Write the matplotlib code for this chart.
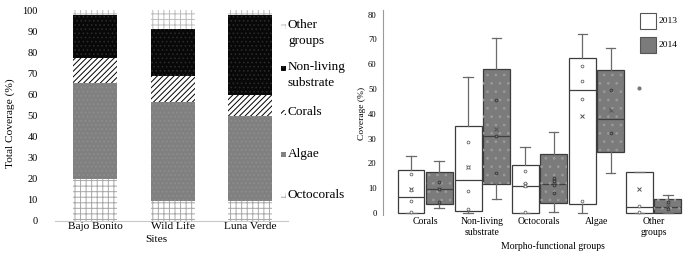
import matplotlib
matplotlib.use("Agg")
import matplotlib.pyplot as plt
from matplotlib.patches import Rectangle, PathPatch

plt.rcParams['font.family'] = ['Liberation Serif', 'DejaVu Serif']
plt.rcParams['hatch.linewidth'] = 0.7

# left panel: stacked coverage per site
sites = ["Bajo Bonito", "Wild Life", "Luna Verde"]
octocorals = [20, 9.5, 9.5]
algae = [45.5, 47, 40.5]
corals = [12, 12.5, 10]
non_living = [20.5, 22, 38]
other = [2, 9, 2]

# right panel: box stats per group, 2013 and 2014
groups = ["Corals", "Non-living\nsubstrate", "Octocorals", "Algae", "Other\ngroups"]
# (whislo, q1, med, q3, whishi, mean)
stats_2013 = [(0, 0.2, 6.6, 17.3, 23.1, 9.5),
              (0, 1.0, 13.3, 35.1, 55.0, 18.5),
              (0, 0, 10.9, 19.4, 26.7, 11.5),
              (0, 3.5, 49.6, 62.6, 72.4, 39.2),
              (0, 0, 2.3, 16.4, 16.4, 9.8)]
stats_2014 = [(1.9, 3.5, 9.5, 16.7, 21.1, 9.8),
              (5.5, 11.7, 31.1, 58.0, 70.5, 33.8),
              (0.3, 3.9, 11.6, 23.7, 32.5, 13.0),
              (16.3, 24.7, 37.8, 57.7, 66.4, 41.4),
              (0, 0, 2.3, 5.5, 7.3, 3.0)]
fliers_2013 = [[], [], [], [], [50.5]]
fliers_2014 = [[], [], [], [], []]
points_2013 = [[15.7, 9.3, 4.8, 0.4], [28.5, 18.7, 8.9, 1.5], [17, 12.2, 11, 0.3],
               [59.4, 53.4, 46, 4.8], [3, 0.3]]
points_2014 = [[12.6, 9.6, 4.6], [45.6, 31, 16.3], [14, 13, 11.3, 8.2],
               [49.6, 32.4], [4.6, 1.5]]

fig = plt.figure(figsize=(6.83, 2.54), dpi=100)

# ---------------- left chart ----------------
ax1 = fig.add_axes([55/683, 33/254, 233/683, 210.7/254])
x = list(range(len(sites)))
layers = [
    (octocorals, "Octocorals", dict(facecolor='white', edgecolor='#a8a8a8', hatch='+++')),
    (algae, "Algae", dict(facecolor='#808080', edgecolor='#8e8e8e', hatch='....')),
    (corals, "Corals", dict(facecolor='white', edgecolor='black', hatch='//////')),
    (non_living, "Non-living\nsubstrate", dict(facecolor='#080808', edgecolor='#2a2a2a', hatch='....')),
    (other, "Other\ngroups", dict(facecolor='white', edgecolor='#bcbcbc', hatch='+++')),
]
bottom = [0, 0, 0]
for vals, name, style in layers:
    ax1.bar(x, vals, width=0.57, bottom=bottom, linewidth=0, **style)
    bottom = [b + v for b, v in zip(bottom, vals)]

ax1.set_xlim(-0.52, 2.49)
ax1.set_ylim(0, 100)
ax1.set_yticks(range(0, 101, 10))
ax1.set_xticks(x)
ax1.set_xticklabels(sites, fontsize=8.2)
ax1.tick_params(axis='y', length=0, pad=12.5, labelsize=7.5)
ax1.tick_params(axis='x', length=0, pad=1)
for s in ['top', 'right', 'left']:
    ax1.spines[s].set_visible(False)
ax1.spines['bottom'].set_color('#c8c8c8')
ax1.spines['bottom'].set_linewidth(0.8)
fig.text(10/683, 1 - 123/254, "Total Coverage (%)", rotation=90, fontsize=8.2,
         ha='center', va='center')
fig.text(156/683, 1 - 239/254, "Sites", fontsize=8.2, ha='center', va='center')

# legend (manual, reversed order)
leg_y = [33, 75, 112, 154, 195]
for (vals, name, style), yy in zip(layers[::-1], leg_y):
    my = yy - 7 if '\n' in name else yy
    fig.add_artist(Rectangle((281/683, 1 - (my + 2.5)/254), 5/683, 5/254,
                             transform=fig.transFigure, linewidth=0, **style))
    fig.text(288/683, 1 - yy/254, name, fontsize=9.5, ha='left', va='center',
             linespacing=1.35)

# ---------------- right chart ----------------
ax2 = fig.add_axes([383/683, 39/254, 300/683, 205/254])
pos = list(range(1, len(groups) + 1))


def to_stats(rows, fl):
    out = []
    for (lo, q1, med, q3, hi, mean), f in zip(rows, fl):
        out.append(dict(whislo=lo, q1=q1, med=med, q3=q3, whishi=hi, mean=mean, fliers=f))
    return out


edge = '#3c3c3c'
common = dict(widths=0.47, capwidths=0.17, patch_artist=True, showmeans=True,
              whiskerprops=dict(color='#6a6a6a', lw=0.9),
              capprops=dict(color='#6a6a6a', lw=0.9),
              medianprops=dict(color='#404040', lw=0.9),
              meanprops=dict(marker='x', markersize=3.5, markeredgecolor='#555555', markeredgewidth=0.7),
              flierprops=dict(marker='o', markersize=2, markerfacecolor='#777777',
                              markeredgecolor='#777777'))
b13 = ax2.bxp(to_stats(stats_2013, fliers_2013), positions=[p - 0.245 for p in pos],
              boxprops=dict(facecolor='white', edgecolor=edge, lw=0.9), **common)
b14 = ax2.bxp(to_stats(stats_2014, fliers_2014), positions=[p + 0.25 for p in pos],
              boxprops=dict(facecolor='#7b7b7b', edgecolor=edge, lw=0.9), **common)
for box in b14['boxes']:
    ax2.add_patch(PathPatch(box.get_path(), transform=box.get_transform(), facecolor='none',
                            edgecolor='#9a9a9a', hatch='..', lw=0, zorder=box.get_zorder() + 0.1))

for p, pts in zip(pos, points_2013):
    ax2.scatter([p - 0.245] * len(pts), pts, s=4, facecolor='white', edgecolor='#666666',
                linewidths=0.6, zorder=4)
for p, pts in zip(pos, points_2014):
    ax2.scatter([p + 0.25] * len(pts), pts, s=4, facecolor='#7b7b7b', edgecolor='#333333',
                linewidths=0.6, zorder=4)

ax2.set_xlim(0.2645, 5.517)
ax2.set_ylim(-0.8, 81.9)
ax2.set_yticks(range(0, 81, 10))
ax2.set_xticks(pos)
ax2.set_xticklabels(groups, fontsize=7, linespacing=1.25)
ax2.tick_params(axis='y', length=0, pad=4.5, labelsize=6.2)
ax2.tick_params(axis='x', length=0, pad=1.5)
for s in ['top', 'right', 'bottom']:
    ax2.spines[s].set_visible(False)
ax2.spines['left'].set_color('#9a9a9a')
ax2.spines['left'].set_linewidth(0.8)
fig.text(362/683, 1 - 113/254, "Coverage (%)", rotation=90, fontsize=6.8,
         ha='center', va='center')
fig.text(553/683, 1 - 246/254, "Morpho-functional groups", fontsize=7,
         ha='center', va='center')

# year legend
fig.add_artist(Rectangle((640/683, 1 - 29/254), 16/683, 16/254, transform=fig.transFigure,
                         facecolor='white', edgecolor='#555555', lw=0.8))
fig.add_artist(Rectangle((640/683, 1 - 53/254), 16/683, 16/254, transform=fig.transFigure,
                         facecolor='#7b7b7b', edgecolor='#555555', lw=0.8))
fig.text(659/683, 1 - 21/254, "2013", fontsize=6.8, ha='left', va='center')
fig.text(659/683, 1 - 45/254, "2014", fontsize=6.8, ha='left', va='center')

fig.savefig("out.png", dpi=100)
